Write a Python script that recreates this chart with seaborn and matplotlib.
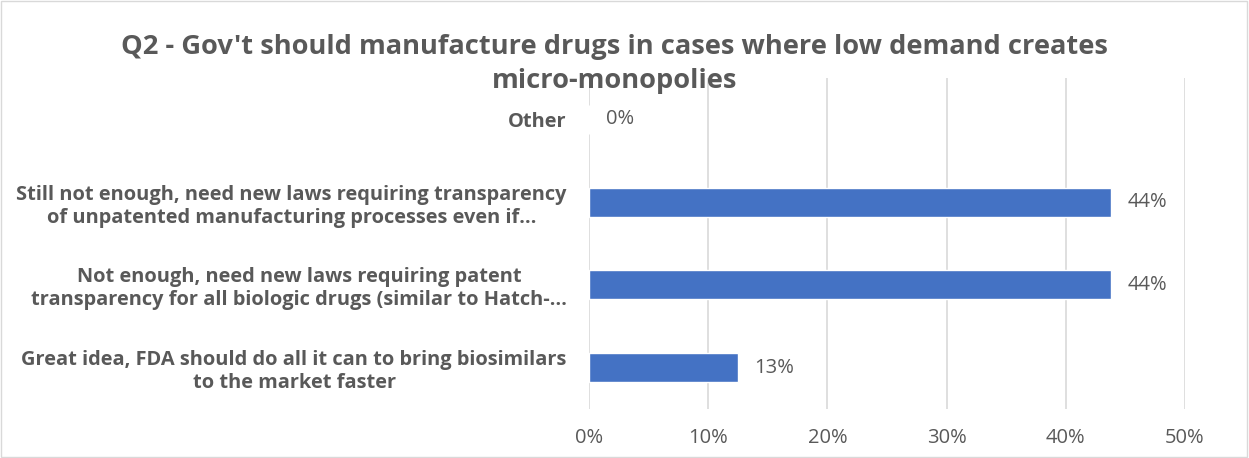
import matplotlib
matplotlib.use("Agg")
import matplotlib.pyplot as plt
import seaborn as sns
import pandas as pd
from matplotlib.ticker import PercentFormatter

# ──────────────────────────────
#  Data (share of respondents)
# ──────────────────────────────
answers = [
    "Other",
    "Still not enough, need new laws requiring transparency\nof unpatented manufacturing processes even if…",
    "Not enough, need new laws requiring patent\ntransparency for all biologic drugs (similar to Hatch-…",
    "Great idea, FDA should do all it can to bring biosimilars\nto the market faster",
]
shares = [0.0, 0.4375, 0.4375, 0.125]
value_labels = ["0%", "44%", "44%", "13%"]

df = pd.DataFrame({"answer": answers, "share": shares})

sns.set_theme(style="white")
plt.rcParams["font.family"] = ["Open Sans", "DejaVu Sans"]

GREY = "#595959"
fig, ax = plt.subplots(figsize=(12.49, 4.58), dpi=100)
fig.subplots_adjust(left=589 / 1249, right=1185 / 1249, top=1 - 78 / 458, bottom=1 - 409 / 458)

sns.barplot(data=df, x="share", y="answer", orient="h", color="#4472C4",
            saturation=1, width=0.35, ax=ax)

ax.set_xlim(0, 0.5)
ax.set_xticks([0, 0.1, 0.2, 0.3, 0.4, 0.5])
ax.xaxis.set_major_formatter(PercentFormatter(1.0, decimals=0))
ax.grid(axis="x", color="#d9d9d9", linewidth=1.2)
ax.set_axisbelow(True)
for s in ax.spines.values():
    s.set_visible(False)
ax.set_xlabel("")
ax.set_ylabel("")
ax.tick_params(axis="x", colors=GREY, labelsize=14.5, length=0, pad=14)
ax.tick_params(axis="y", length=0, pad=16)
for t in ax.get_yticklabels():
    t.set_fontweight("bold")
    t.set_color(GREY)
    t.set_fontsize(14.4)
    t.set_multialignment("center")

for i, (v, lab) in enumerate(zip(shares, value_labels)):
    ax.annotate(lab, (v, i), xytext=(12, 0), textcoords="offset points",
                va="center", ha="left", color=GREY, fontsize=14.5)

fig.text(0.492, 1 - 64 / 458,
         "Q2 - Gov't should manufacture drugs in cases where low demand creates\nmicro-monopolies",
         ha="center", va="center", fontsize=19.6, fontweight="bold", color=GREY,
         linespacing=1.35)

# light chart-area frame
fig.patches.append(plt.Rectangle((0.001, 0.002), 0.997, 0.995, transform=fig.transFigure,
                                 fill=False, edgecolor="#d9d9d9", linewidth=1))

fig.savefig("out.png", dpi=100)
